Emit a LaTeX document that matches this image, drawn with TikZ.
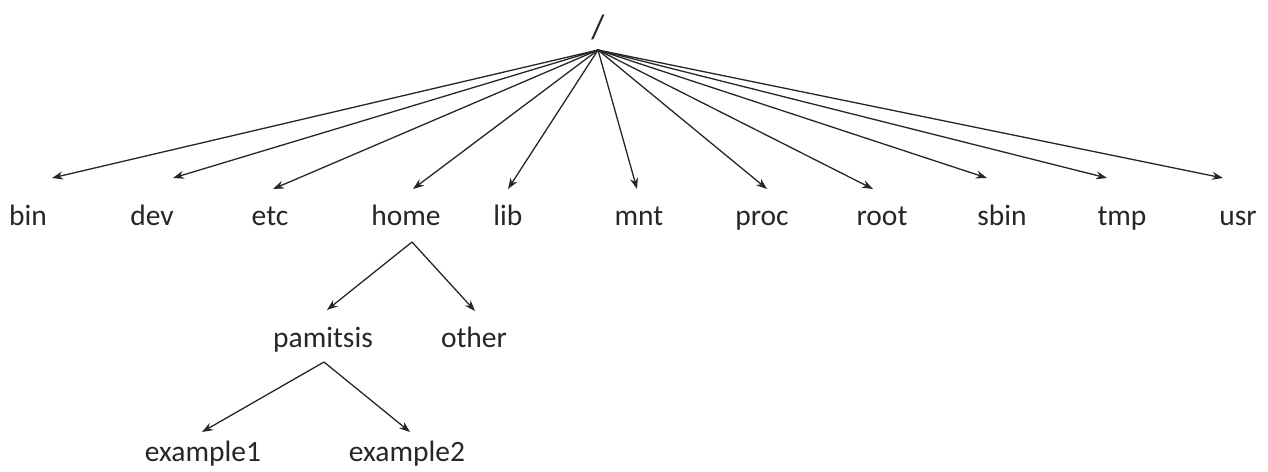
\documentclass[tikz,border=0pt]{standalone}
\usepackage{fontspec}
\setmainfont{Carlito}
\usetikzlibrary{arrows.meta}
\begin{document}
\begin{tikzpicture}[x=1pt,y=-1pt,
  lbl/.style={anchor=base,inner sep=0pt,font=\fontsize{29.5}{31}\selectfont,text=black!85},
  arr/.style={line width=1.3pt,draw=black!85,-{Stealth[length=11pt,width=8pt]}}]
\useasboundingbox (0,0) rectangle (1268,471);
% root
\node[lbl,font=\fontsize{34}{36}\selectfont] (root) at (598,38) {/};
\coordinate (apex) at (598,50);
% top level labels
\node[lbl] (bin) at (28,225) {bin};
\node[lbl] (dev) at (152,225) {dev};
\node[lbl] (etc) at (270,225) {etc};
\node[lbl] (home) at (406,225) {home};
\node[lbl] (lib) at (508,225) {lib};
\node[lbl] (mnt) at (639,225) {mnt};
\node[lbl] (proc) at (762,225) {proc};
\node[lbl] (rootdir) at (882,225) {root};
\node[lbl] (sbin) at (1002,225) {sbin};
\node[lbl] (tmp) at (1122,225) {tmp};
\node[lbl] (usr) at (1238,225) {usr};
% tips
\coordinate (tbin) at (52,178);
\coordinate (tdev) at (173,178);
\coordinate (tetc) at (273,189);
\coordinate (thome) at (413,189);
\coordinate (tlib) at (508,189);
\coordinate (tmnt) at (637,189);
\coordinate (tproc) at (767,189);
\coordinate (troot) at (873,189);
\coordinate (tsbin) at (987,178);
\coordinate (ttmp) at (1107,178);
\coordinate (tusr) at (1223,178);
\foreach \t in {tbin,tdev,tetc,thome,tlib,tmnt,tproc,troot,tsbin,ttmp,tusr}
  \draw[arr] (apex) -- (\t);
% home subtree
\coordinate (homeapex) at (412,242);
\node[lbl] (pamitsis) at (323,347) {pamitsis};
\node[lbl] (other) at (474,347) {other};
\coordinate (tpam) at (327,310);
\coordinate (tother) at (475,311);
\draw[arr] (homeapex) -- (tpam);
\draw[arr] (homeapex) -- (tother);
% pamitsis subtree
\coordinate (pamapex) at (324,362);
\node[lbl] (ex1) at (203,461) {example1};
\node[lbl] (ex2) at (407,461) {example2};
\coordinate (tex1) at (202,432);
\coordinate (tex2) at (410,432);
\draw[arr] (pamapex) -- (tex1);
\draw[arr] (pamapex) -- (tex2);
\end{tikzpicture}
\end{document}
